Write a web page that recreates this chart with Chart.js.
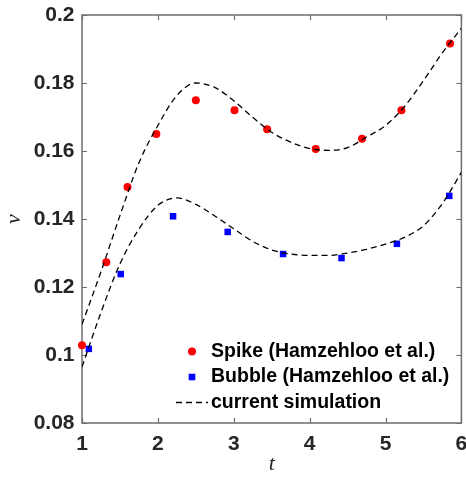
<!DOCTYPE html>
<html><head><meta charset="utf-8">
<script src="https://cdn.jsdelivr.net/npm/chart.js@4/dist/chart.umd.min.js"></script>
<style>html,body{margin:0;padding:0;background:#fff}#wrap{width:466px;height:479px}</style>
</head><body><div id="wrap"><canvas id="c" width="466" height="479"></canvas></div>
<script>
// Reference data (Hamzehloo et al.)
const spikeT = [1.00, 1.32, 1.60, 1.98, 2.50, 3.01, 3.44, 4.08, 4.69, 5.21, 5.85];
const spikeV = [0.1029, 0.1273, 0.1494, 0.1650, 0.1749, 0.1720, 0.1664, 0.1606, 0.1636, 0.1720, 0.1916];
const bubbleT = [1.09, 1.51, 2.20, 2.92, 3.65, 4.42, 5.15, 5.84];
const bubbleV = [0.1018, 0.1238, 0.1408, 0.1362, 0.1297, 0.1285, 0.1327, 0.1468];
// Current simulation curves
const simT = [1.00, 1.25, 1.50, 1.75, 2.00, 2.25, 2.50, 2.75, 3.00, 3.25, 3.50, 3.75, 4.00, 4.25, 4.50, 4.75, 5.00, 5.25, 5.50, 5.75, 6.00];
const simSpikeV = [0.1090, 0.1245, 0.1410, 0.1565, 0.1675, 0.1763, 0.1800, 0.1787, 0.1748, 0.1699, 0.1655, 0.1626, 0.1607, 0.1602, 0.1610, 0.1641, 0.1675, 0.1731, 0.1807, 0.1889, 0.1961];
const simBubbleV = [0.0965, 0.1125, 0.1268, 0.1370, 0.1440, 0.1462, 0.1443, 0.1409, 0.1371, 0.1334, 0.1309, 0.1297, 0.1293, 0.1293, 0.1300, 0.1311, 0.1326, 0.1346, 0.1380, 0.1446, 0.1537];
// Axes
const xTicks = [1, 2, 3, 4, 5, 6];
const xTickLabels = ['1', '2', '3', '4', '5', '6'];
const yTicks = [0.08, 0.10, 0.12, 0.14, 0.16, 0.18, 0.20];
const yTickLabels = ['0.08', '0.1', '0.12', '0.14', '0.16', '0.18', '0.2'];
const legendLabels = ['Spike (Hamzehloo et al.)', 'Bubble (Hamzehloo et al.)', 'current simulation'];

const pts = (xs, ys) => xs.map((x, i) => ({x: x, y: ys[i]}));
const labelFor = (ticks, labels, v) => { const i = ticks.findIndex(t => Math.abs(t - v) < 1e-9); return i >= 0 ? labels[i] : ''; };

const AXIS_COLOR = '#6e6e6e';
const TEXT_COLOR = '#262626';

const framePlugin = {
  id: 'frame',
  beforeDatasetsDraw(chart) {
    const {ctx, chartArea: a, scales: {x, y}} = chart;
    ctx.save();
    ctx.strokeStyle = AXIS_COLOR;
    ctx.lineWidth = 1.5;
    ctx.strokeRect(a.left, a.top, a.right - a.left, a.bottom - a.top);
    const L = 5;
    ctx.beginPath();
    xTicks.forEach(t => {
      const px = Math.round(x.getPixelForValue(t)) + 0.5;
      ctx.moveTo(px, a.bottom); ctx.lineTo(px, a.bottom - L);
      ctx.moveTo(px, a.top); ctx.lineTo(px, a.top + L);
    });
    yTicks.forEach(t => {
      const py = Math.round(y.getPixelForValue(t)) + 0.5;
      ctx.moveTo(a.left, py); ctx.lineTo(a.left + L, py);
      ctx.moveTo(a.right, py); ctx.lineTo(a.right - L, py);
    });
    ctx.lineWidth = 1.2;
    ctx.stroke();
    ctx.restore();
  }
};

const legendPlugin = {
  id: 'customLegend',
  afterDraw(chart) {
    const ctx = chart.ctx;
    const mx = 192, tx = 211;
    const rows = [351.5, 377, 402.5];
    ctx.save();
    ctx.fillStyle = '#ff0000';
    ctx.beginPath(); ctx.arc(mx, rows[0], 4, 0, Math.PI * 2); ctx.fill();
    ctx.fillStyle = '#0000ff';
    ctx.fillRect(mx - 3.3, rows[1] - 3.3, 6.6, 6.6);
    ctx.strokeStyle = '#000';
    ctx.lineWidth = 1.3;
    ctx.setLineDash([6, 4]);
    ctx.beginPath(); ctx.moveTo(176, rows[2]); ctx.lineTo(208, rows[2]); ctx.stroke();
    ctx.setLineDash([]);
    ctx.fillStyle = '#000';
    ctx.font = 'bold 19.5px "Liberation Sans", Arial, sans-serif';
    ctx.textAlign = 'left';
    ctx.textBaseline = 'middle';
    legendLabels.forEach((l, i) => ctx.fillText(l, tx, rows[i]));
    ctx.restore();
  }
};

new Chart(document.getElementById('c'), {
  type: 'scatter',
  data: {
    datasets: [
      { label: legendLabels[2], data: pts(simT, simSpikeV), showLine: true, borderColor: '#000', borderWidth: 1.3,
        borderDash: [6, 4], pointRadius: 0, cubicInterpolationMode: 'monotone', fill: false },
      { label: legendLabels[2], data: pts(simT, simBubbleV), showLine: true, borderColor: '#000', borderWidth: 1.3,
        borderDash: [6, 4], pointRadius: 0, cubicInterpolationMode: 'monotone', fill: false },
      { label: legendLabels[0], data: pts(spikeT, spikeV), pointStyle: 'circle', pointRadius: 4,
        backgroundColor: '#ff0000', borderWidth: 0, clip: false },
      { label: legendLabels[1], data: pts(bubbleT, bubbleV), pointStyle: 'rect', pointRadius: 4.6,
        backgroundColor: '#0000ff', borderWidth: 0, clip: false }
    ]
  },
  options: {
    responsive: false,
    animation: false,
    devicePixelRatio: 1,
    layout: { padding: { top: 15, right: 4, left: 0, bottom: 0 } },
    plugins: { legend: { display: false }, tooltip: { enabled: false } },
    scales: {
      x: {
        type: 'linear', min: 1, max: 6,
        afterBuildTicks: s => { s.ticks = xTicks.map(v => ({value: v})); },
        afterFit: s => { s.height = 56; s.paddingLeft = 0; s.paddingRight = 0; },
        grid: { display: false, drawTicks: false },
        border: { display: false },
        ticks: { padding: 9, color: TEXT_COLOR, font: { family: '"Liberation Sans", Arial, sans-serif', size: 21, weight: 'bold' },
                 callback: v => labelFor(xTicks, xTickLabels, v), maxRotation: 0 },
        title: { display: true, text: 't', color: TEXT_COLOR, padding: { top: 0, bottom: 2 },
                 font: { family: '"Liberation Serif", "Times New Roman", serif', size: 22, style: 'italic' } }
      },
      y: {
        type: 'linear', min: 0.08, max: 0.2,
        afterBuildTicks: s => { s.ticks = yTicks.map(v => ({value: v})); },
        afterFit: s => { s.width = 82; s.paddingTop = 0; s.paddingBottom = 0; },
        grid: { display: false, drawTicks: false },
        border: { display: false },
        ticks: { padding: 7.5, color: TEXT_COLOR, font: { family: '"Liberation Sans", Arial, sans-serif', size: 21, weight: 'bold' },
                 callback: v => labelFor(yTicks, yTickLabels, v) },
        title: { display: true, text: 'v', color: TEXT_COLOR, padding: { top: 1.5, bottom: 0 },
                 font: { family: '"Liberation Serif", "Times New Roman", serif', size: 22, style: 'italic' } }
      }
    }
  },
  plugins: [framePlugin, legendPlugin]
});
</script></body></html>
